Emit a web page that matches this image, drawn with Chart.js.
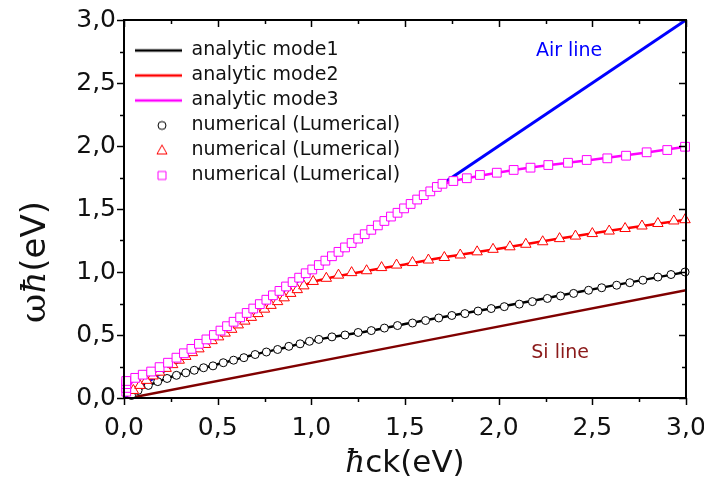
<!DOCTYPE html>
<html>
<head>
<meta charset="utf-8">
<script src="https://cdn.jsdelivr.net/npm/chart.js@4.4.1/dist/chart.umd.min.js"></script>
<style>
  body { margin: 0; background: #fff; }
</style>
</head>
<body>
<canvas id="dispersion-canvas" width="704" height="485"></canvas>
<script>
// ticks
var majorTicks = [0, 0.5, 1, 1.5, 2, 2.5, 3];
var minorTicks = [0.25, 0.75, 1.25, 1.75, 2.25, 2.75];

// analytic curves
var mode1X = [0.02, 0.04, 0.075, 0.13, 0.2, 0.3, 0.4, 0.53, 0.7, 0.9, 1.04, 1.3, 1.6, 1.96, 2.3, 2.6, 3.0];
var mode1Y = [0.0, 0.02, 0.06, 0.10, 0.14, 0.19, 0.23, 0.28, 0.345, 0.415, 0.465, 0.53, 0.615, 0.71, 0.805, 0.89, 1.0];

var mode2X = [0.02, 0.05, 0.1, 0.14, 0.3, 0.5, 0.7, 0.85, 0.94, 0.98, 1.03, 1.1, 1.3, 1.5, 1.7, 2.0, 2.3, 2.6, 3.0];
var mode2Y = [0.0, 0.06, 0.12, 0.16, 0.30, 0.48, 0.66, 0.795, 0.875, 0.905, 0.93, 0.955, 1.01, 1.06, 1.115, 1.185, 1.26, 1.33, 1.415];

var mode3X = [0.01, 0.06, 0.19, 0.5, 1.0, 1.5, 1.68, 1.72, 1.76, 1.83, 2.0, 2.2, 2.5, 2.8, 3.0];
var mode3Y = [0.05, 0.16, 0.245, 0.52, 1.02, 1.51, 1.685, 1.705, 1.722, 1.744, 1.79, 1.835, 1.89, 1.95, 1.995];

var airX = [0, 3];
var airY = [0, 3];
var siX = [0.03, 3.0];
var siY = [0, 0.855];

// numerical (Lumerical) points
var num1X = [0.04, 0.075, 0.13, 0.18, 0.23, 0.28, 0.33, 0.375, 0.425, 0.475, 0.53, 0.585, 0.64, 0.70, 0.76, 0.82, 0.88, 0.94, 0.99, 1.04, 1.11, 1.18, 1.25, 1.32, 1.39, 1.46, 1.54, 1.61, 1.68, 1.75, 1.82, 1.89, 1.96, 2.03, 2.11, 2.18, 2.26, 2.33, 2.40, 2.48, 2.55, 2.63, 2.70, 2.77, 2.85, 2.92, 2.995];
var num1Y = [0.02, 0.06, 0.10, 0.13, 0.155, 0.18, 0.20, 0.22, 0.24, 0.255, 0.28, 0.30, 0.32, 0.345, 0.365, 0.385, 0.41, 0.43, 0.45, 0.465, 0.485, 0.50, 0.52, 0.535, 0.555, 0.575, 0.595, 0.615, 0.635, 0.655, 0.67, 0.69, 0.71, 0.725, 0.745, 0.765, 0.79, 0.81, 0.83, 0.855, 0.875, 0.895, 0.915, 0.935, 0.96, 0.98, 1.0];

var num2X = [0.05, 0.085, 0.12, 0.155, 0.19, 0.225, 0.26, 0.295, 0.33, 0.365, 0.40, 0.435, 0.47, 0.505, 0.54, 0.575, 0.61, 0.645, 0.68, 0.715, 0.75, 0.785, 0.82, 0.855, 0.89, 0.925, 0.96,
  1.01, 1.08, 1.145, 1.215, 1.295, 1.375, 1.455, 1.54, 1.625, 1.71, 1.795, 1.885, 1.97, 2.06, 2.145, 2.235, 2.325, 2.41, 2.50, 2.59, 2.675, 2.765, 2.85, 2.935, 2.995];
var num2Y = [0.06, 0.10, 0.14, 0.175, 0.205, 0.235, 0.265, 0.30, 0.33, 0.36, 0.39, 0.425, 0.455, 0.485, 0.515, 0.545, 0.58, 0.61, 0.64, 0.67, 0.705, 0.735, 0.765, 0.795, 0.83, 0.86, 0.89,
  0.925, 0.95, 0.975, 0.995, 1.01, 1.035, 1.055, 1.075, 1.095, 1.115, 1.135, 1.16, 1.18, 1.20, 1.22, 1.24, 1.265, 1.285, 1.305, 1.325, 1.345, 1.365, 1.385, 1.405, 1.415];

var num3X = [0.012, 0.012, 0.012, 0.012, 0.06, 0.10, 0.145, 0.19, 0.235, 0.28, 0.32, 0.36, 0.40, 0.44, 0.48, 0.515, 0.55, 0.585, 0.62, 0.655, 0.69, 0.725, 0.76, 0.795, 0.83, 0.865, 0.90, 0.935, 0.97, 1.005, 1.04, 1.075, 1.11, 1.145, 1.18, 1.215, 1.25, 1.285, 1.32, 1.355, 1.39, 1.425, 1.46, 1.495, 1.53, 1.565, 1.60, 1.635, 1.67, 1.70,
  1.758, 1.83, 1.90, 1.99, 2.08, 2.17, 2.265, 2.37, 2.47, 2.58, 2.68, 2.79, 2.90, 2.995];
var num3Y = [0.05, 0.08, 0.11, 0.135, 0.16, 0.185, 0.21, 0.245, 0.28, 0.32, 0.355, 0.39, 0.43, 0.465, 0.50, 0.535, 0.57, 0.605, 0.64, 0.675, 0.71, 0.745, 0.78, 0.815, 0.85, 0.885, 0.92, 0.955, 0.99, 1.02, 1.055, 1.09, 1.125, 1.16, 1.195, 1.23, 1.265, 1.30, 1.335, 1.37, 1.405, 1.44, 1.47, 1.505, 1.54, 1.575, 1.61, 1.64, 1.675, 1.70,
  1.722, 1.744, 1.77, 1.788, 1.81, 1.828, 1.849, 1.867, 1.889, 1.902, 1.923, 1.95, 1.968, 1.994];

// text labels inside the plot, in data units
var noteText = ["Air line", "Si line"];
var noteX = [2.376, 2.328];
var noteY = [2.756, 0.357];
var noteColor = ["#0000ff", "#8b1a1a"];

var legendText = ["analytic mode1", "analytic mode2", "analytic mode3",
  "numerical (Lumerical)", "numerical (Lumerical)", "numerical (Lumerical)"];

function pts(xs, ys) {
  return xs.map(function (x, i) { return { x: x, y: ys[i] }; });
}

function swatch(kind, color) {
  var c = document.createElement("canvas");
  c.width = 52;
  c.height = 16;
  var g = c.getContext("2d");
  g.strokeStyle = color;
  g.fillStyle = "#fff";
  g.lineWidth = 1;
  g.beginPath();
  if (kind === "line") {
    g.lineWidth = 2.5;
    g.moveTo(5, 8);
    g.lineTo(52, 8);
  } else if (kind === "circle") {
    g.arc(32, 8, 4, 0, Math.PI * 2);
  } else if (kind === "triangle") {
    g.moveTo(32, 2.5);
    g.lineTo(37, 11.5);
    g.lineTo(27, 11.5);
    g.closePath();
  } else {
    g.rect(28, 4, 8, 8);
  }
  g.fill();
  g.stroke();
  return c;
}

var legendSwatches = [
  swatch("line", "#000000"),
  swatch("line", "#ff0000"),
  swatch("line", "#ff00ff"),
  swatch("circle", "#000000"),
  swatch("triangle", "#ff0000"),
  swatch("rect", "#ff00ff"),
];

var fontFamily = "'DejaVu Sans', Arial, sans-serif";

function lineSet(label, xs, ys, color, width, order) {
  return {
    label: label,
    data: pts(xs, ys),
    showLine: true,
    borderColor: color,
    backgroundColor: color,
    borderWidth: width,
    pointRadius: 0,
    cubicInterpolationMode: "monotone",
    order: order,
  };
}

function markerSet(label, xs, ys, color, style, radius, order) {
  return {
    label: label,
    data: pts(xs, ys),
    showLine: false,
    pointStyle: style,
    pointRadius: radius,
    pointBorderWidth: 1,
    pointBorderColor: color,
    pointBackgroundColor: "#ffffff",
    borderColor: color,
    backgroundColor: "#ffffff",
    clip: 8,
    order: order,
  };
}

// draws a title made of [text, font] parts, centred on 0,0
function drawParts(ctx, parts) {
  var total = 0;
  parts.forEach(function (p) { ctx.font = p[1]; total += ctx.measureText(p[0]).width; });
  ctx.textAlign = "left";
  ctx.textBaseline = "middle";
  var cx = -total / 2;
  parts.forEach(function (p) {
    ctx.font = p[1];
    ctx.fillText(p[0], cx, 0);
    cx += ctx.measureText(p[0]).width;
  });
}

var frameTicks = {
  id: "frameTicks",
  afterDraw: function (chart) {
    var ctx = chart.ctx;
    var a = chart.chartArea;
    var xs = chart.scales.x;
    var ys = chart.scales.y;
    ctx.save();
    ctx.strokeStyle = "#000";
    ctx.lineWidth = 2;
    ctx.strokeRect(a.left, a.top, a.right - a.left, a.bottom - a.top);
    ctx.lineWidth = 1.5;
    function seg(x1, y1, x2, y2) {
      ctx.beginPath();
      ctx.moveTo(x1, y1);
      ctx.lineTo(x2, y2);
      ctx.stroke();
    }
    function marks(vals, len) {
      vals.forEach(function (v) {
        var px = Math.round(xs.getPixelForValue(v)) + 0.5;
        seg(px, a.bottom, px, a.bottom + len);
        seg(px, a.top, px, a.top + len);
        var py = Math.round(ys.getPixelForValue(v)) + 0.5;
        seg(a.left - len, py, a.left, py);
        seg(a.right - len, py, a.right, py);
      });
    }
    marks(majorTicks, 7);
    marks(minorTicks, 4);

    ctx.font = "19px " + fontFamily;
    ctx.textAlign = "center";
    ctx.textBaseline = "middle";
    noteText.forEach(function (t, i) {
      ctx.fillStyle = noteColor[i];
      ctx.fillText(t, xs.getPixelForValue(noteX[i]), ys.getPixelForValue(noteY[i]));
    });

    ctx.fillStyle = "#111";
    // x axis title
    ctx.save();
    ctx.translate((a.left + a.right) / 2, 464);
    drawParts(ctx, [
      ["ħ", "italic 31px 'DejaVu Serif', serif"],
      ["ck(eV)", "31px " + fontFamily],
    ]);
    ctx.restore();

    // y axis title
    ctx.translate(36, 262);
    ctx.rotate(-Math.PI / 2);
    drawParts(ctx, [
      ["ω", "36px 'DejaVu Serif', serif"],
      ["ħ", "italic 34px 'DejaVu Serif', serif"],
      ["(eV)", "34px " + fontFamily],
    ]);
    ctx.restore();
  },
};

new Chart(document.getElementById("dispersion-canvas"), {
  type: "scatter",
  data: {
    datasets: [
      lineSet(legendText[0], mode1X, mode1Y, "#000000", 2.5, 5),
      lineSet(legendText[1], mode2X, mode2Y, "#ff0000", 2.5, 4),
      lineSet(legendText[2], mode3X, mode3Y, "#ff00ff", 2.5, 3),
      markerSet(legendText[3], num1X, num1Y, "#000000", "circle", 4, 2),
      markerSet(legendText[4], num2X, num2Y, "#ff0000", "triangle", 6, 1),
      markerSet(legendText[5], num3X, num3Y, "#ff00ff", "rect", 6.2, 0),
      lineSet("Air line", airX, airY, "#0000ff", 3, 7),
      lineSet("Si line", siX, siY, "#800000", 2.5, 6),
    ],
  },
  options: {
    responsive: false,
    animation: false,
    devicePixelRatio: 1,
    layout: { padding: { top: 20, right: 18, left: 0, bottom: 0 } },
    plugins: {
      tooltip: { enabled: false },
      legend: {
        position: "chartArea",
        align: "start",
        title: { display: true, text: " ", font: { size: 12, lineHeight: 1 }, padding: { top: 0, bottom: 23 } },
        labels: {
          usePointStyle: true,
          pointStyleWidth: 52,
          boxWidth: 52,
          padding: 6,
          color: "#111",
          font: { family: fontFamily, size: 19 },
          generateLabels: function () {
            return legendText.map(function (t, i) {
              return {
                text: t,
                pointStyle: legendSwatches[i],
                fillStyle: "#fff",
                strokeStyle: "#000",
                fontColor: "#111",
                lineWidth: 0,
                hidden: false,
                datasetIndex: i,
              };
            });
          },
        },
      },
    },
    scales: {
      x: {
        type: "linear",
        min: 0,
        max: 3,
        afterFit: function (s) { s.height = 87; s.paddingLeft = 0; s.paddingRight = 0; },
        afterBuildTicks: function (s) {
          s.ticks = majorTicks.map(function (v) { return { value: v }; });
        },
        grid: { display: false, drawTicks: false },
        border: { display: false },
        ticks: {
          padding: 15,
          color: "#111",
          font: { family: fontFamily, size: 25 },
          callback: function (v) { return v.toFixed(1).replace(".", ","); },
        },
      },
      y: {
        type: "linear",
        min: 0,
        max: 3,
        afterFit: function (s) { s.width = 124; s.paddingTop = 0; s.paddingBottom = 0; },
        afterBuildTicks: function (s) {
          s.ticks = majorTicks.map(function (v) { return { value: v }; });
        },
        grid: { display: false, drawTicks: false },
        border: { display: false },
        ticks: {
          padding: 8,
          color: "#111",
          font: { family: fontFamily, size: 25 },
          callback: function (v) { return v.toFixed(1).replace(".", ","); },
        },
      },
    },
  },
  plugins: [frameTicks],
});
</script>
</body>
</html>
